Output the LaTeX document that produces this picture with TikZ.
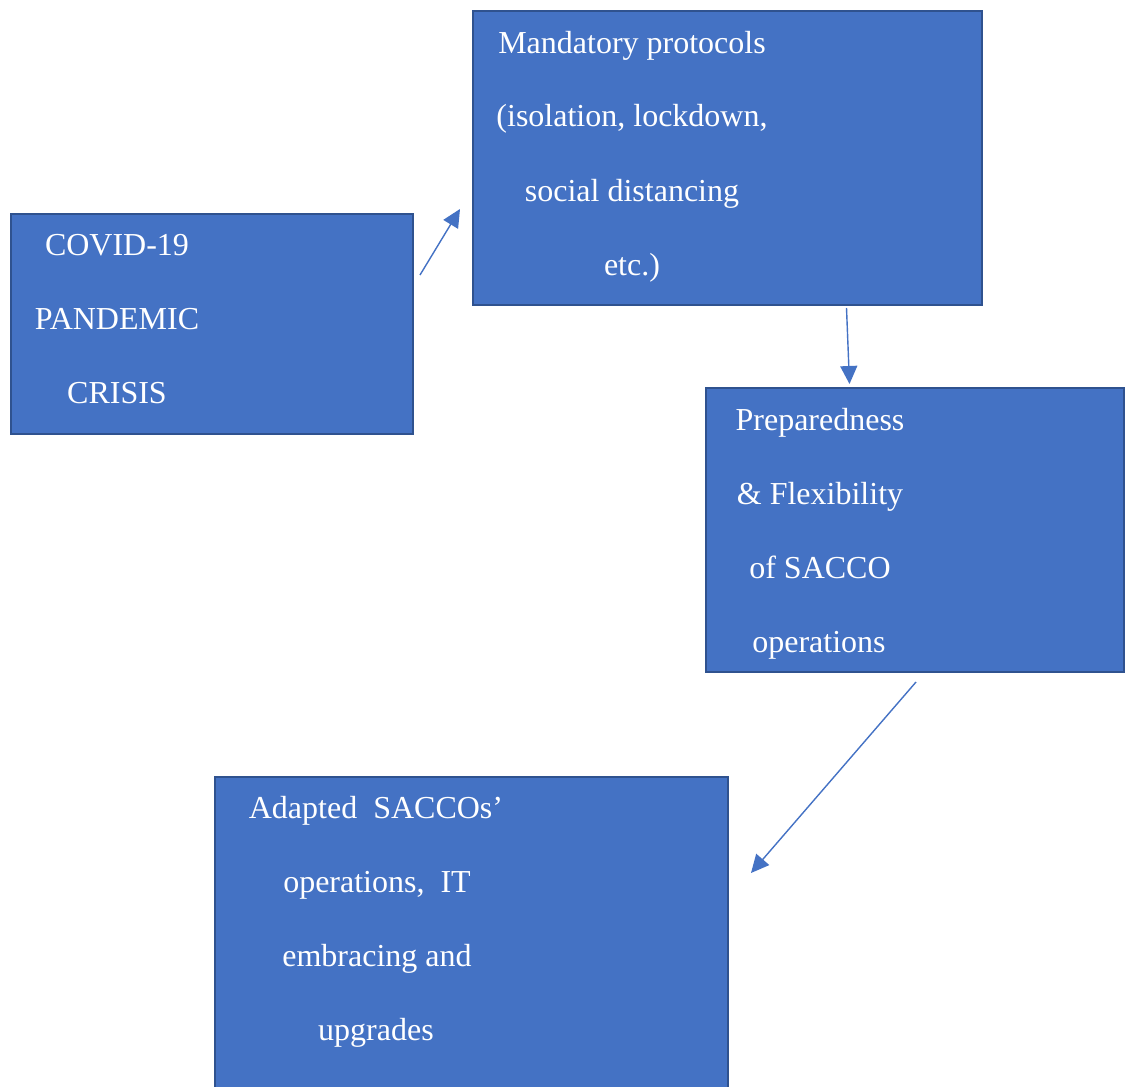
\documentclass[tikz,border=0pt]{standalone}
\usepackage{fontspec}
\setmainfont{Liberation Serif}
\usetikzlibrary{arrows.meta}
\definecolor{boxfill}{HTML}{4472C4}
\definecolor{boxline}{HTML}{2F528F}
\definecolor{arrowcol}{HTML}{4472C4}
\tikzset{
  box/.style={draw=boxline, fill=boxfill, line width=2.4pt, rectangle, anchor=north west, inner sep=0pt, outer sep=0pt},
  txt/.style={text=white, font=\fontsize{32}{38}\selectfont, anchor=base, inner sep=0pt},
  conn/.style={draw=arrowcol, line width=1.4pt, -{Triangle[length=18pt,width=17pt]}}
}
\begin{document}
\begin{tikzpicture}[x=1pt,y=-1pt]
\useasboundingbox (0,0) rectangle (1134,1086);
% boxes
\node[box, minimum width=402pt, minimum height=220pt] (covid) at (11,214) {};
\node[box, minimum width=509pt, minimum height=294pt] (mand) at (473,11) {};
\node[box, minimum width=418pt, minimum height=284pt] (prep) at (706,388) {};
\node[box, minimum width=513pt, minimum height=330pt] (adapt) at (215,777) {};
% texts
\node[txt] (c1) at (117,255) {COVID-19};
\node[txt] (c2) at (117,329) {PANDEMIC};
\node[txt] (c3) at (117,403) {CRISIS};
\node[txt] (m1) at (632,54) {Mandatory protocols};
\node[txt] (m2) at (632,127) {(isolation, lockdown,};
\node[txt] (m3) at (632,201) {social distancing};
\node[txt] (m4) at (632,275) {etc.)};
\node[txt] (p1) at (820,430) {Preparedness};
\node[txt] (p2) at (820,504) {\& Flexibility};
\node[txt] (p3) at (820,578) {of SACCO};
\node[txt] (p4) at (819,652) {operations};
\node[txt] (d1) at (376,818) {Adapted\ \ SACCOs’};
\node[txt] (d2) at (377,892) {operations,\ \ IT};
\node[txt] (d3) at (377,966) {embracing and};
\node[txt] (d4) at (376,1040) {upgrades};
% connector ends
\coordinate (a1s) at (420,275);
\coordinate (a1e) at (460,209);
\coordinate (a2s) at (846.5,308);
\coordinate (a2e) at (849.5,384);
\coordinate (a3s) at (916,682);
\coordinate (a3e) at (751,873);
\draw[conn] (a1s) -- (a1e);
\draw[conn] (a2s) -- (a2e);
\draw[conn] (a3s) -- (a3e);
\end{tikzpicture}
\end{document}
